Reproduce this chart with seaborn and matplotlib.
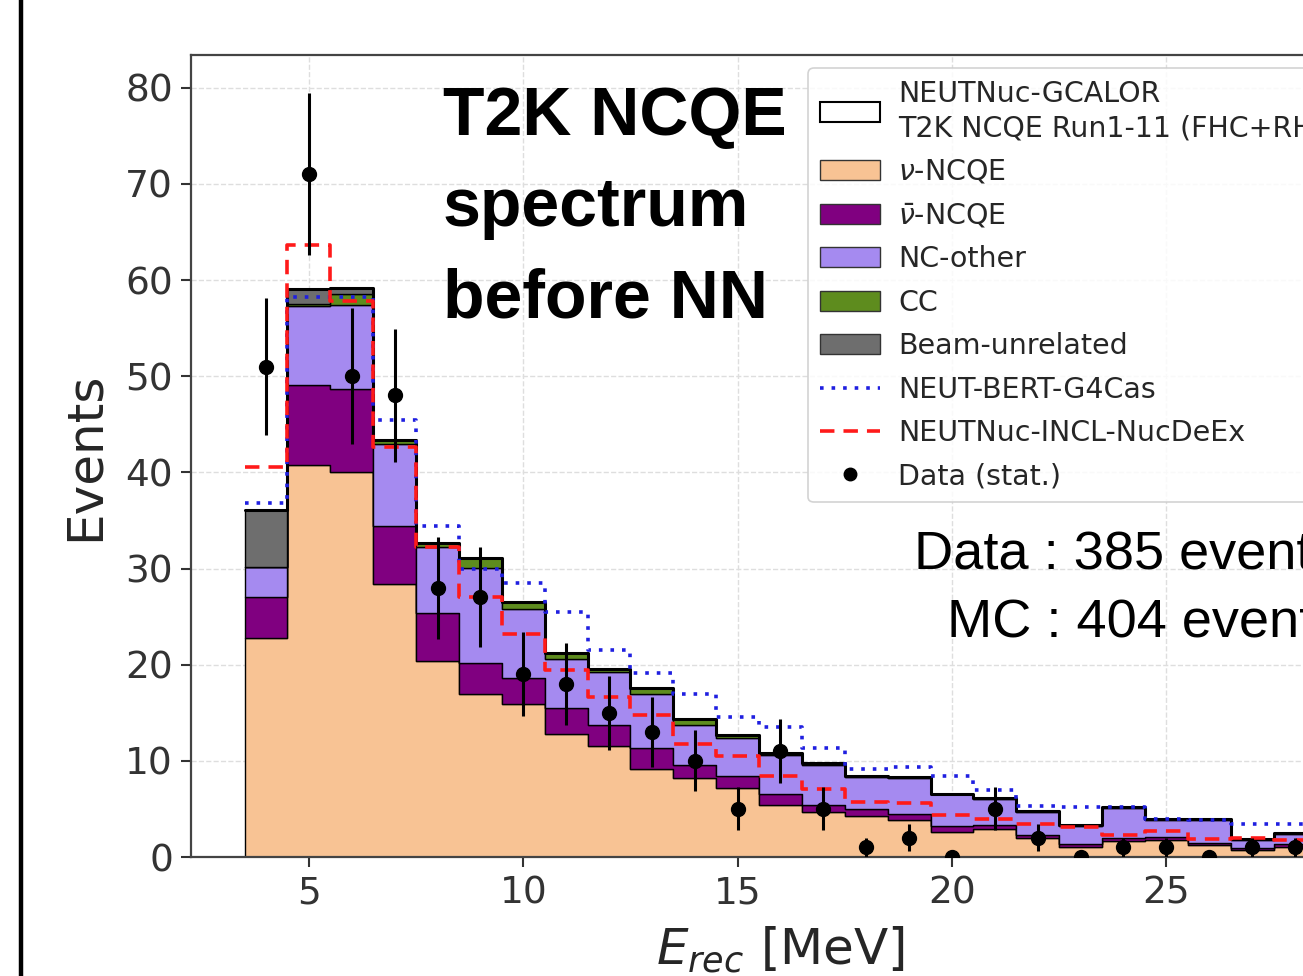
import numpy as np
import pandas as pd
import matplotlib
matplotlib.use("Agg")
import matplotlib.pyplot as plt
import seaborn as sns
from matplotlib.patches import Patch
from matplotlib.lines import Line2D

# ---------------- data ----------------
energy_centers = [4, 5, 6, 7, 8, 9, 10, 11, 12, 13, 14, 15, 16, 17, 18,
                  19, 20, 21, 22, 23, 24, 25, 26, 27, 28]
nu_ncqe = [22.8, 40.8, 40.0, 28.4, 20.4, 16.9, 15.9, 12.8, 11.5, 9.2, 8.2, 7.2,
           5.4, 4.7, 4.3, 3.8, 2.6, 2.9, 2.0, 1.0, 1.7, 1.8, 1.2, 0.7, 1.0]
nubar_ncqe = [4.2, 8.3, 8.7, 6.0, 5.0, 3.3, 2.7, 2.7, 2.2, 2.1, 1.4, 1.2,
              1.1, 0.7, 0.7, 0.7, 0.6, 0.4, 0.3, 0.3, 0.3, 0.3, 0.3, 0.2, 0.3]
nc_other = [3.2, 8.2, 8.7, 8.5, 6.8, 9.9, 7.2, 5.1, 5.5, 5.7, 4.15, 4.0,
            4.1, 4.2, 3.3, 3.7, 3.3, 2.7, 2.4, 1.9, 3.1, 1.7, 2.3, 0.9, 1.1]
cc = [0.0, 0.2, 1.1, 0.5, 0.5, 1.0, 0.7, 0.6, 0.3, 0.6, 0.55, 0.3,
      0.2, 0.2, 0.1, 0.15, 0.1, 0.1, 0.1, 0.1, 0.1, 0.1, 0.1, 0.1, 0.1]
beam_unrelated = [5.9, 1.6, 0.7, 0, 0, 0, 0, 0, 0, 0, 0, 0,
                  0, 0, 0, 0, 0, 0, 0, 0, 0, 0, 0, 0, 0]
neut_bert_g4cas = [36.8, 58.2, 58.2, 45.4, 34.4, 29.9, 28.5, 25.5, 21.5, 19.1, 17.0, 14.6,
                   13.5, 11.3, 9.2, 9.4, 8.4, 7.0, 5.3, 5.2, 5.2, 3.9, 3.8, 3.4, 3.4]
neutnuc_incl_nucdeex = [40.6, 63.6, 57.8, 42.6, 32.2, 27.0, 23.2, 19.4, 16.6, 14.8, 11.7, 10.5,
                        8.4, 7.1, 5.7, 5.6, 4.4, 4.0, 3.4, 3.1, 2.3, 2.7, 1.9, 2.0, 1.8]
data_counts = [51, 71, 50, 48, 28, 27, 19, 18, 15, 13, 10, 5, 11, 5, 1,
               2, 0, 5, 2, 0, 1, 1, 0, 1, 1]

component_labels = [r"$\nu$-NCQE", r"$\bar{\nu}$-NCQE", "NC-other", "CC", "Beam-unrelated"]
component_colors = ["#f8c394", "#800080", "#a58af0", "#5e8c1e", "#6e6e6e"]
y_ticks = [0, 10, 20, 30, 40, 50, 60, 70, 80]
x_ticks = [5, 10, 15, 20, 25]

title_lines = ["T2K NCQE", "spectrum", "before NN"]
count_lines = ["Data : 385 events", "MC : 404 events"]

# ---------------- build tables ----------------
centers = np.array(energy_centers, dtype=float)
edges = np.append(centers - 0.5, centers[-1] + 0.5)
comp_values = [nu_ncqe, nubar_ncqe, nc_other, cc, beam_unrelated]
rows = []
for lab, vals in zip(component_labels, comp_values):
    for c, v in zip(energy_centers, vals):
        rows.append({"E": c, "w": v, "comp": lab})
df = pd.DataFrame(rows)
total = np.sum(np.array(comp_values, dtype=float), axis=0)

# ---------------- style ----------------
sns.set_theme(style="whitegrid", rc={
    "axes.edgecolor": "#444444",
    "axes.linewidth": 1.6,
    "xtick.bottom": True,
    "ytick.left": True,
    "xtick.major.size": 7,
    "ytick.major.size": 7,
    "xtick.major.width": 1.5,
    "ytick.major.width": 1.5,
    "xtick.color": "#333333",
    "ytick.color": "#333333",
    "grid.color": "#dedede",
    "grid.linestyle": "--",
    "grid.linewidth": 1.0,
})
plt.rcParams["font.family"] = ["DejaVu Sans"]

W, H = 1303, 976
fig = plt.figure(figsize=(W / 100, H / 100), dpi=100)
ax_left, ax_right, ax_top, ax_bottom = 191, 1370, 55, 857
ax = fig.add_axes([ax_left / W, 1 - ax_bottom / H,
                   (ax_right - ax_left) / W, (ax_bottom - ax_top) / H])

palette = dict(zip(component_labels, component_colors))
hue_order = component_labels[::-1]  # seaborn stacks last hue at the bottom
sns.histplot(data=df, x="E", weights="w", hue="comp", hue_order=hue_order,
             palette=palette, multiple="stack", element="step", bins=edges.tolist(),
             edgecolor="black", linewidth=1.0, alpha=1.0, legend=False, ax=ax)

# total outline (NEUTNuc-GCALOR)
sns.lineplot(x=edges, y=np.append(total, total[-1]), drawstyle="steps-post",
             color="black", linewidth=2.2, estimator=None, sort=False, ax=ax)
# alternative models
sns.lineplot(x=edges, y=np.append(neut_bert_g4cas, neut_bert_g4cas[-1]),
             drawstyle="steps-post", color="#1f1fe0", linewidth=2.6,
             linestyle=(0, (1, 2.2)), estimator=None, sort=False, ax=ax)
sns.lineplot(x=edges, y=np.append(neutnuc_incl_nucdeex, neutnuc_incl_nucdeex[-1]),
             drawstyle="steps-post", color="#ff1a1a", linewidth=2.6,
             linestyle=(0, (4, 2.5)), estimator=None, sort=False, ax=ax)

# data
dc = np.array(data_counts, dtype=float)
ax.errorbar(centers, dc, yerr=np.sqrt(dc), fmt="o", color="black",
            markersize=10, elinewidth=2.2, capsize=0, zorder=5)

ax.set_xlim(2.25, 29.75)
ax.set_ylim(0, 83.4)
ax.set_xticks(x_ticks)
ax.set_yticks(y_ticks)
ax.tick_params(axis="both", labelsize=27, pad=6)
ax.set_xlabel(r"$E_{rec}$ [MeV]", fontsize=36, labelpad=10)
ax.set_ylabel("Events", fontsize=36, labelpad=12)
ax.set_axisbelow(True)

# legend
handles = [Patch(facecolor="white", edgecolor="black", linewidth=1.5)]
labels = ["NEUTNuc-GCALOR\nT2K NCQE Run1-11 (FHC+RHC)"]
for lab, col in zip(component_labels, component_colors):
    handles.append(Patch(facecolor=col, edgecolor="#333333", linewidth=1.0))
    labels.append(lab)
handles.append(Line2D([], [], color="#1f1fe0", linewidth=2.6, linestyle=(0, (1, 2.2))))
labels.append("NEUT-BERT-G4Cas")
handles.append(Line2D([], [], color="#ff1a1a", linewidth=2.6, linestyle=(0, (4, 2.5))))
labels.append("NEUTNuc-INCL-NucDeEx")
handles.append(Line2D([], [], color="black", marker="o", linestyle="none", markersize=9))
labels.append("Data (stat.)")
leg = ax.legend(handles, labels, loc="upper left",
                bbox_to_anchor=((808 - ax_left) / (ax_right - ax_left),
                                (ax_bottom - 68) / (ax_bottom - ax_top)),
                borderaxespad=0, fontsize=20.5, frameon=True, fancybox=True,
                framealpha=0.85, edgecolor="#cccccc", labelspacing=0.54,
                handlelength=2.1, handletextpad=0.65, borderpad=0.42)
leg.get_frame().set_linewidth(1.2)
leg.get_texts()[0].set_linespacing(1.3)

# big title text
for line, base in zip(title_lines, [135, 226, 317]):
    fig.text(443 / W, 1 - base / H, line, fontsize=49, fontweight="bold",
             family="Liberation Sans", ha="left", va="baseline", color="black")

# event counts
for line, xl, base in zip(count_lines, [914, 947], [570, 638]):
    fig.text(xl / W, 1 - base / H, line, fontsize=39,
             family="Liberation Sans", ha="left", va="baseline", color="black")

# slide border line at left
fig.add_artist(Line2D([21.5 / W, 21.5 / W], [0, 1], color="black", linewidth=3.2,
                      transform=fig.transFigure))

fig.savefig("out.png", dpi=100)
